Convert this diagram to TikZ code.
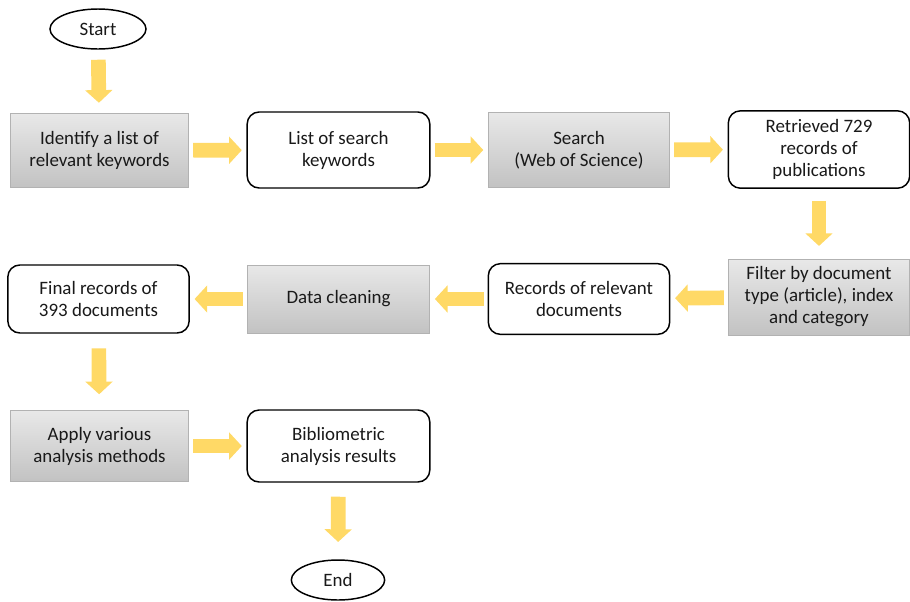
\documentclass[tikz,border=0pt]{standalone}
\usepackage{fontspec}
\setmainfont{Carlito}
\usepackage{tikz}
\usetikzlibrary{arrows.meta}
\usetikzlibrary{shapes.geometric}
\definecolor{flowyellow}{HTML}{FFD966}
\definecolor{boxgray}{HTML}{BFBFBF}
\tikzset{
	txt/.style={align=center,text=black!90,font=\fontsize{14.2}{16.5}\selectfont},
	roundbox/.style={txt,draw,line width=1.1pt,rounded corners=9pt,fill=white,inner sep=0pt},
	graybox/.style={txt,draw=gray!60,line width=0.6pt,top color=gray!18,bottom color=boxgray!95,inner sep=0pt},
	terminal/.style={txt,ellipse,draw,line width=1.1pt,inner sep=0pt},
	flow/.style={draw=flowyellow,line width=11pt,-{Triangle[length=9.5pt,width=20pt]},shorten <=3pt,shorten >=3.5pt},
}
\begin{document}
\begin{tikzpicture}[x=0.75pt,y=-0.75pt]
	\useasboundingbox (0,0) rectangle (910,601);
	% first row
	\node[terminal,minimum width=72pt,minimum height=30pt] (start) at (98,29) {Start};
	\node[graybox,minimum width=134pt,minimum height=56pt] (identify) at (99.5,150.5) {Identify a list of\\relevant keywords};
	\node[roundbox,minimum width=137pt,minimum height=57pt] (keywords) at (338.5,150) {List of search\\keywords};
	\node[graybox,minimum width=136pt,minimum height=56pt] (search) at (579,150) {Search\\(Web of Science)};
	\node[roundbox,minimum width=136pt,minimum height=58pt] (retrieved) at (819,149.5) {Retrieved 729\\records of\\publications};
	% second row
	\node[graybox,minimum width=136pt,minimum height=57pt] (filter) at (819,297) {Filter by document\\type (article), index\\and category};
	\node[roundbox,minimum width=136pt,minimum height=53pt] (relevant) at (579,299) {Records of relevant\\documents};
	\node[graybox,minimum width=137pt,minimum height=51pt] (cleaning) at (338.5,299) {Data cleaning};
	\node[roundbox,minimum width=136pt,minimum height=51pt] (final) at (98.5,299) {Final records of\\393 documents};
	% third row
	\node[graybox,minimum width=134pt,minimum height=53pt] (apply) at (99.5,446) {Apply various\\analysis methods};
	\node[roundbox,minimum width=137pt,minimum height=54pt] (results) at (338.5,446) {Bibliometric\\analysis results};
	\node[terminal,minimum width=70pt,minimum height=30pt] (end) at (338,580) {End};
	% arrows
	\draw[flow,shorten <=7.5pt,shorten >=7.5pt] (start) -- (identify);
	\draw[flow] (identify) -- (keywords);
	\draw[flow] (keywords) -- (search);
	\draw[flow] (search) -- (retrieved);
	\draw[flow,shorten <=9pt,shorten >=9.5pt] (retrieved) -- (filter);
	\draw[flow] (filter) -- (relevant);
	\draw[flow] (relevant) -- (cleaning);
	\draw[flow] (cleaning) -- (final);
	\draw[flow,shorten <=11pt,shorten >=12pt] (final) -- (apply);
	\draw[flow] (apply) -- (results);
	\draw[flow,shorten <=10.5pt,shorten >=13pt] (results) -- (end);
\end{tikzpicture}
\end{document}
